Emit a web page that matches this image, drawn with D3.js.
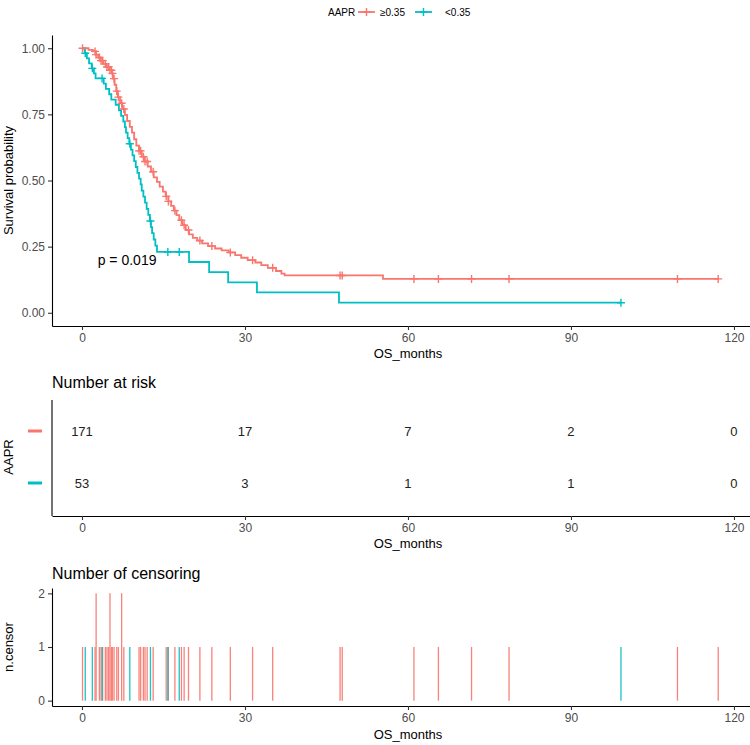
<!DOCTYPE html>
<html><head><meta charset="utf-8">
<script src="https://cdn.jsdelivr.net/npm/d3@7"></script>
<style>body{margin:0;background:#fff}svg{display:block;font-family:"Liberation Sans",Arial,sans-serif}</style>
</head><body><svg id="c" width="750" height="745"></svg>
<script>
const groups = ["≥0.35", "<0.35"];
const colors = ["#F8766D", "#00BFC4"];
const legendTitle = "AAPR";
const xTicks = [0, 30, 60, 90, 120];
const yTicks = [0, 0.25, 0.5, 0.75, 1];
const yTickLabels = ["0.00", "0.25", "0.50", "0.75", "1.00"];
const censorTicks = [0, 1, 2];
// survival step points [time, survival]
const stepsHigh = [[0,1],[1.2,0.994],[2.0,0.988],[2.6,0.976],[3.0,0.965],[3.4,0.953],[3.9,0.941],[4.5,0.929],[5.0,0.917],[5.5,0.905],[5.7,0.885],[6.0,0.862],[6.3,0.838],[6.6,0.815],[7.0,0.792],[7.4,0.770],[7.9,0.748],[8.3,0.725],[8.8,0.703],[9.2,0.681],[9.6,0.656],[10.0,0.632],[10.5,0.612],[11.0,0.590],[11.5,0.572],[12.1,0.553],[12.7,0.533],[13.2,0.512],[13.8,0.495],[14.3,0.477],[14.9,0.458],[15.4,0.440],[15.9,0.421],[16.4,0.404],[16.9,0.386],[17.4,0.369],[17.9,0.350],[18.5,0.331],[19.1,0.313],[19.7,0.296],[20.4,0.283],[21.2,0.273],[22.1,0.262],[23.2,0.252],[24.5,0.243],[25.7,0.236],[27.0,0.228],[28.2,0.218],[29.3,0.208],[30.5,0.199],[31.9,0.190],[33.0,0.180],[34.2,0.170],[35.7,0.158],[36.7,0.148],[37.3,0.141],[55.4,0.128]];
const stepsLow = [[0,1],[0.5,0.981],[0.9,0.962],[1.3,0.943],[1.8,0.924],[2.2,0.905],[2.5,0.886],[4.0,0.866],[4.4,0.846],[5.0,0.826],[5.4,0.806],[6.2,0.786],[6.8,0.765],[7.2,0.744],[7.6,0.723],[7.9,0.702],[8.1,0.681],[8.4,0.660],[8.7,0.639],[9.0,0.617],[9.3,0.595],[9.6,0.573],[9.9,0.551],[10.2,0.529],[10.5,0.507],[10.8,0.485],[11.0,0.462],[11.3,0.439],[11.6,0.416],[11.9,0.393],[12.2,0.370],[12.5,0.347],[12.7,0.324],[12.9,0.301],[13.2,0.277],[13.5,0.254],[13.8,0.230],[19.7,0.192],[23.4,0.154],[26.9,0.115],[32.2,0.077],[47.3,0.038]];
const endHigh = 117.1, endLow = 99.2;
// censoring [time, count]
const censHigh = [[0.1,1],[2.4,1],[2.6,2],[3.2,1],[3.5,1],[3.8,1],[4.3,1],[4.6,1],[4.9,1],[5.15,2],[5.4,1],[5.6,1],[5.9,1],[6.4,1],[6.7,1],[7.3,2],[7.7,1],[10.5,1],[10.8,1],[11.3,1],[11.6,1],[12.0,1],[13.1,1],[15.5,1],[15.9,1],[17.1,1],[18.3,1],[18.8,1],[19.6,1],[21.7,1],[23.9,1],[27.3,1],[31.4,1],[35.1,1],[47.5,1],[47.9,1],[61.1,1],[65.6,1],[71.7,1],[78.6,1],[109.6,1],[117.1,1]];
const censLow = [[0.6,1],[1.9,1],[3.7,1],[8.8,1],[12.6,1],[15.8,1],[17.9,1],[99.2,1]];
const riskHigh = [171, 17, 7, 2, 0];
const riskLow = [53, 3, 1, 1, 0];
const pText = "p = 0.019";

const svg = d3.select("#c");
const x = d3.scaleLinear().domain([-5.52, 122.95]).range([52, 750]);
const y = d3.scaleLinear().domain([-0.05, 1.05]).range([326, 35]);
const tickCol = "#4D4D4D";

function axisStyle(g){
  g.selectAll("path.domain").attr("stroke","#000").attr("stroke-width",1.1);
  g.selectAll(".tick line").attr("stroke","#333").attr("stroke-width",1.1);
  g.selectAll(".tick text").attr("fill",tickCol).style("font-size","12px").style("font-family","Liberation Sans, Arial, sans-serif");
}
function xAxisAt(yPos){
  const g = svg.append("g").attr("transform",`translate(0,${yPos})`)
    .call(d3.axisBottom(x).tickValues(xTicks).tickSize(4).tickPadding(3).tickSizeOuter(0));
  axisStyle(g);
  return g;
}

// ---------- main KM plot ----------
const gy = svg.append("g").attr("transform","translate(52,0)")
  .call(d3.axisLeft(y).tickValues(yTicks).tickFormat((d,i)=>yTickLabels[i]).tickSize(4).tickPadding(3).tickSizeOuter(0));
axisStyle(gy);
xAxisAt(326);
svg.append("text").attr("x",x(60)).attr("y",358).attr("text-anchor","middle").style("font-size","13px").text("OS_months");
svg.append("text").attr("transform",`translate(13,${(y(0)+y(1))/2}) rotate(-90)`).attr("text-anchor","middle").style("font-size","13px").text("Survival probability");

const line = d3.line().x(d=>x(d[0])).y(d=>y(d[1])).curve(d3.curveStepAfter);
function survAt(steps,t){let s=1;for(const st of steps){if(st[0]<=t)s=st[1];}return s;}
const series = [
  {steps:stepsHigh,end:endHigh,cens:censHigh,col:colors[0]},
  {steps:stepsLow,end:endLow,cens:censLow,col:colors[1]}
];
series.slice().reverse().forEach(s=>{
  const pts = s.steps.concat([[s.end, s.steps[s.steps.length-1][1]]]);
  svg.append("path").datum(pts).attr("d",line).attr("fill","none").attr("stroke",s.col).attr("stroke-width",1.8);
  s.cens.forEach(c=>{
    const cx=x(c[0]), cy=y(survAt(s.steps,c[0]));
    svg.append("path").attr("d",`M${cx-4},${cy}H${cx+4}M${cx},${cy-4}V${cy+4}`).attr("stroke",s.col).attr("stroke-width",1.4);
  });
});
svg.append("text").attr("x",x(8.3)).attr("y",y(0.18)).attr("text-anchor","middle").style("font-size","14px").text(pText);

// legend
const lg = svg.append("g").attr("transform","translate(0,12)");
lg.append("text").attr("x",328).attr("y",4).style("font-size","10px").text(legendTitle);
const legX = [[358,380],[415,445]];
groups.forEach((gname,i)=>{
  const [kx,tx]=legX[i];
  lg.append("line").attr("x1",kx).attr("x2",kx+17).attr("y1",0).attr("y2",0).attr("stroke",colors[i]).attr("stroke-width",1.8);
  const cx=kx+8.5;
  lg.append("path").attr("d",`M${cx-4},0H${cx+4}M${cx},-4V4`).attr("stroke",colors[i]).attr("stroke-width",1.4);
  lg.append("text").attr("x",tx).attr("y",4).style("font-size","10px").text(gname);
});

// ---------- risk table ----------
svg.append("text").attr("x",52).attr("y",388).style("font-size","16px").text("Number at risk");
const ry = d3.scalePoint().domain([0,1]).range([431,483]);
svg.append("line").attr("x1",52).attr("x2",52).attr("y1",400).attr("y2",516).attr("stroke","#000").attr("stroke-width",1.1);
xAxisAt(516);
svg.append("text").attr("x",x(60)).attr("y",548).attr("text-anchor","middle").style("font-size","13px").text("OS_months");
svg.append("text").attr("transform",`translate(13,457) rotate(-90)`).attr("text-anchor","middle").style("font-size","13px").text(legendTitle);
[riskHigh,riskLow].forEach((arr,i)=>{
  svg.append("line").attr("x1",28).attr("x2",42).attr("y1",ry(i)).attr("y2",ry(i)).attr("stroke",colors[i]).attr("stroke-width",3);
  arr.forEach((v,j)=>{
    svg.append("text").attr("x",x(xTicks[j])).attr("y",ry(i)+5).attr("text-anchor","middle").style("font-size","13px").attr("fill","#222").text(v);
  });
});

// ---------- censoring plot ----------
svg.append("text").attr("x",52).attr("y",579).style("font-size","16px").text("Number of censoring");
const cy = d3.scaleLinear().domain([-0.1,2.1]).range([706,588]);
const gcy = svg.append("g").attr("transform","translate(52,0)")
  .call(d3.axisLeft(cy).tickValues(censorTicks).tickFormat(d3.format("d")).tickSize(4).tickPadding(3).tickSizeOuter(0));
axisStyle(gcy);
xAxisAt(706);
svg.append("text").attr("x",x(60)).attr("y",739).attr("text-anchor","middle").style("font-size","13px").text("OS_months");
svg.append("text").attr("transform",`translate(13,${cy(1)}) rotate(-90)`).attr("text-anchor","middle").style("font-size","13px").text("n.censor");
series.forEach(s=>{
  s.cens.forEach(c=>{
    svg.append("line").attr("x1",x(c[0])).attr("x2",x(c[0])).attr("y1",cy(0)).attr("y2",cy(c[1]))
      .attr("stroke",s.col).attr("stroke-width",1.3).attr("opacity",0.9);
  });
});
</script></body></html>
